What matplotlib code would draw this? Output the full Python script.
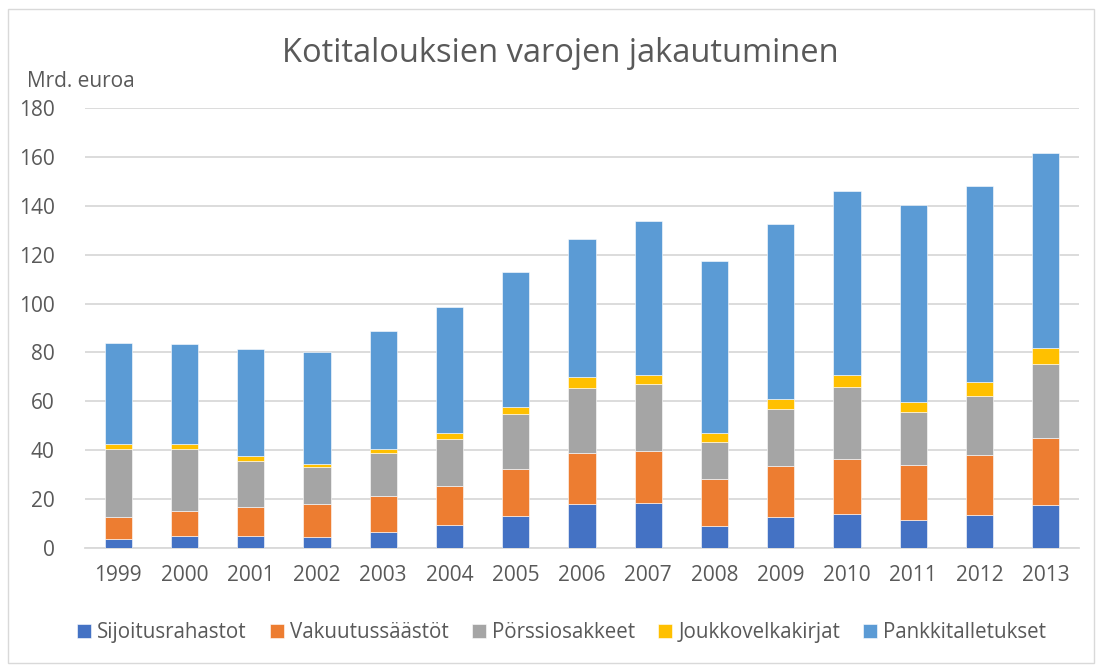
import matplotlib.pyplot as plt
import numpy as np

vuodet = ["1999", "2000", "2001", "2002", "2003", "2004", "2005", "2006",
          "2007", "2008", "2009", "2010", "2011", "2012", "2013"]

sijoitusrahastot = [3.8, 4.9, 5.0, 4.6, 6.5, 9.3, 13.1, 17.9, 18.3, 9.0, 12.7, 14.0, 11.6, 13.6, 17.5]
vakuutussaastot = [8.8, 10.1, 11.9, 13.3, 14.9, 16.3, 19.1, 20.8, 21.5, 19.4, 21.0, 22.3, 22.5, 24.6, 27.6]
porssiosakkeet = [28.0, 25.6, 18.8, 15.1, 17.6, 18.9, 22.8, 26.9, 27.2, 14.8, 23.0, 29.5, 21.4, 24.1, 30.3]
joukkovelkakirjat = [2.1, 2.1, 1.9, 1.5, 1.5, 2.6, 2.7, 4.5, 3.8, 3.7, 4.3, 4.9, 4.4, 5.6, 6.6]
pankkitalletukset = [41.2, 40.8, 43.8, 45.7, 48.3, 51.5, 55.1, 56.2, 63.0, 70.5, 71.4, 75.4, 80.3, 80.2, 79.7]

sarjat = [
    ("Sijoitusrahastot", sijoitusrahastot, "#4472C4"),
    ("Vakuutussäästöt", vakuutussaastot, "#ED7D31"),
    ("Pörssiosakkeet", porssiosakkeet, "#A5A5A5"),
    ("Joukkovelkakirjat", joukkovelkakirjat, "#FFC000"),
    ("Pankkitalletukset", pankkitalletukset, "#5B9BD5"),
]

plt.rcParams['font.family'] = ['Open Sans', 'DejaVu Sans']
teksti = "#595959"

fig = plt.figure(figsize=(10.97, 6.66), dpi=100)
ax = fig.add_axes([0.0775, 0.177, 0.906, 0.661])

x = np.arange(len(vuodet))
pohja = np.zeros(len(vuodet))
for nimi, arvot, vari in sarjat:
    ax.bar(x, arvot, bottom=pohja, width=0.41, color=vari, label=nimi,
           edgecolor="white", linewidth=0.4, zorder=3)
    pohja += np.array(arvot)

ax.set_xlim(-0.5, len(vuodet) - 0.5)
ax.set_ylim(0, 180)
ax.set_yticks(range(0, 181, 20))
ax.set_xticks(x)
ax.set_xticklabels(vuodet)
ax.tick_params(axis="both", length=0, labelsize=15, colors=teksti)
ax.tick_params(axis="y", pad=22)
ax.tick_params(axis="x", pad=12)
ax.grid(axis="y", color="#D9D9D9", linewidth=1.3, zorder=0)
for s in ["top", "right", "left"]:
    ax.spines[s].set_visible(False)
ax.spines["bottom"].set_color("#D9D9D9")
ax.spines["bottom"].set_linewidth(1.3)

fig.text(0.511, 0.92, "Kotitalouksien varojen jakautuminen", ha="center", va="center",
         fontsize=23.5, color=teksti)
fig.text(0.025, 0.877, "Mrd. euroa", ha="left", va="center", fontsize=15, color=teksti)

fig.legend(loc="center", bbox_to_anchor=(0.512, 0.05), ncol=5, frameon=False,
           fontsize=14.8, labelcolor=teksti, handlelength=0.7, handleheight=0.7,
           handletextpad=0.3, columnspacing=1.1)

fig.add_artist(plt.Rectangle((0.007, 0.004), 0.99, 0.982, transform=fig.transFigure,
                             fill=False, edgecolor="#D9D9D9", linewidth=1))

fig.savefig("out.png", dpi=100)
